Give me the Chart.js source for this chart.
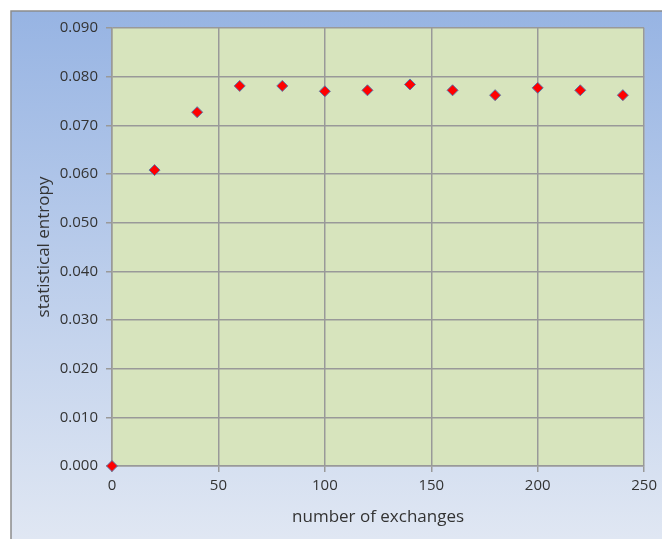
<!DOCTYPE html>
<html>
<head>
<meta charset="utf-8">
<script src="https://cdn.jsdelivr.net/npm/chart.js"></script>
<style>
  html, body { margin: 0; padding: 0; background: #ffffff; }
  #wrap { width: 662px; height: 539px; }
</style>
</head>
<body>
<div id="wrap"><canvas id="chartCanvas" width="662" height="539"></canvas></div>
<script>
// data
const exchanges = [0, 20, 40, 60, 80, 100, 120, 140, 160, 180, 200, 220, 240];
const entropy = [0.0000, 0.0608, 0.0727, 0.0781, 0.0781, 0.0770, 0.0772, 0.0784, 0.0772, 0.0762, 0.0777, 0.0772, 0.0762];
const xTicks = [0, 50, 100, 150, 200, 250];
const yTicks = [0, 0.01, 0.02, 0.03, 0.04, 0.05, 0.06, 0.07, 0.08, 0.09];

const textColor = '#333333';
const gridColor = '#999999';
const fontFamily = '"Open Sans", "DejaVu Sans", sans-serif';

// Frame with gradient + plot area fill
const backdrop = {
  id: 'backdrop',
  beforeDraw(chart) {
    const { ctx, chartArea } = chart;
    ctx.save();
    const g = ctx.createLinearGradient(0, 11, 0, chart.height);
    g.addColorStop(0, '#97b4e3');
    g.addColorStop(1, '#e0e7f3');
    ctx.fillStyle = g;
    ctx.fillRect(11, 11, chart.width - 11, chart.height - 11);
    ctx.strokeStyle = '#8c8c8c';
    ctx.lineWidth = 1.5;
    ctx.beginPath();
    ctx.moveTo(11, chart.height);
    ctx.lineTo(11, 11);
    ctx.lineTo(chart.width, 11);
    ctx.stroke();
    ctx.fillStyle = '#d7e4bd';
    ctx.fillRect(chartArea.left, chartArea.top, chartArea.right - chartArea.left, chartArea.bottom - chartArea.top);
    ctx.restore();
  }
};

const chart = new Chart(document.getElementById('chartCanvas'), {
  type: 'scatter',
  data: {
    datasets: [{
      label: 'statistical entropy',
      data: exchanges.map((x, i) => ({ x: x, y: entropy[i] })),
      pointStyle: 'rectRot',
      pointRadius: 5.5,
      pointHoverRadius: 5.5,
      backgroundColor: '#ff0000',
      borderColor: '#5a76a8',
      borderWidth: 1,
      clip: false
    }]
  },
  options: {
    responsive: false,
    animation: false,
    devicePixelRatio: 1,
    layout: { padding: { top: 28, right: 15, left: 0, bottom: 0 } },
    plugins: {
      legend: { display: false },
      tooltip: { enabled: false }
    },
    scales: {
      x: {
        type: 'linear',
        min: 0,
        max: 250,
        afterFit(scale) { scale.height = 73; },
        afterBuildTicks(scale) { scale.ticks = xTicks.map(v => ({ value: v })); },
        ticks: {
          color: textColor,
          padding: 5,
          font: { family: fontFamily, size: 15 }
        },
        grid: { color: gridColor, lineWidth: 1.5, tickLength: 6, tickColor: gridColor },
        border: { color: gridColor, width: 1.5 },
        title: {
          display: true,
          text: 'number of exchanges',
          color: textColor,
          font: { family: fontFamily, size: 17, lineHeight: 1.2 },
          padding: { top: 0, bottom: 12 }
        }
      },
      y: {
        type: 'linear',
        min: 0,
        max: 0.09,
        afterFit(scale) { scale.width = 112; },
        afterBuildTicks(scale) { scale.ticks = yTicks.map(v => ({ value: v })); },
        ticks: {
          color: textColor,
          padding: 8,
          font: { family: fontFamily, size: 15 },
          callback: v => v.toFixed(3)
        },
        grid: { color: gridColor, lineWidth: 1.5, tickLength: 6, tickColor: gridColor },
        border: { color: gridColor, width: 1.5 },
        title: {
          display: true,
          text: 'statistical entropy',
          color: textColor,
          font: { family: fontFamily, size: 17, lineHeight: 1.2 },
          padding: { top: 34, bottom: 0 }
        }
      }
    }
  },
  plugins: [backdrop]
});
</script>
</body>
</html>
